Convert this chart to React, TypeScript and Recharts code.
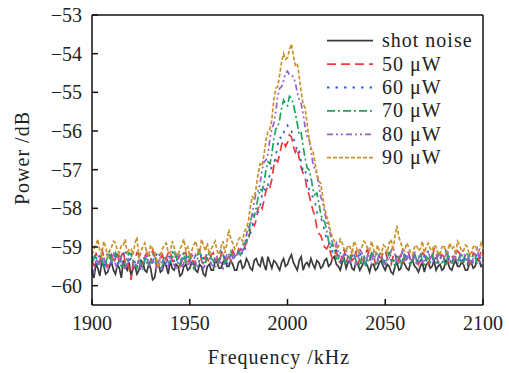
import { LineChart, Line, XAxis, YAxis, ReferenceLine, Label } from 'recharts'

const FONT = '"Liberation Serif", "Times New Roman", serif'

// frequency grid, kHz (1 kHz step)
const FREQ = Array.from({ length: 201 }, (_, i) => 1900 + i)
const X_TICKS = [1900, 1950, 2000, 2050, 2100]
const Y_TICKS = [-60, -59, -58, -57, -56, -55, -54, -53]

const SHOT = [
  -59.6, -59.8, -59.45, -59.55, -59.75, -59.4, -59.5, -59.7, -59.65, -59.5,
  -59.4, -59.6, -59.7, -59.45, -59.55, -59.8, -59.35, -59.5, -59.6, -59.4,
  -59.75, -59.55, -59.5, -59.7, -59.6, -59.35, -59.4, -59.6, -59.65, -59.45,
  -59.55, -59.85, -59.8, -59.5, -59.45, -59.65, -59.6, -59.4, -59.5, -59.7,
  -59.35, -59.55, -59.6, -59.45, -59.5, -59.75, -59.7, -59.5, -59.45, -59.6,
  -59.55, -59.4, -59.4, -59.6, -59.65, -59.45, -59.5, -59.7, -59.75, -59.5,
  -59.45, -59.6, -59.6, -59.35, -59.4, -59.55, -59.55, -59.4, -59.3, -59.5,
  -59.5, -59.35, -59.45, -59.6, -59.6, -59.4, -59.35, -59.55, -59.5, -59.3,
  -59.4, -59.55, -59.6, -59.35, -59.3, -59.45, -59.5, -59.25, -59.45, -59.6,
  -59.25, -59.4, -59.55, -59.35, -59.4, -59.5, -59.6, -59.4, -59.3, -59.5,
  -59.45, -59.3, -59.2, -59.4, -59.5, -59.6, -59.35, -59.25, -59.6, -59.45,
  -59.4, -59.5, -59.3, -59.45, -59.55, -59.35, -59.4, -59.55, -59.5, -59.35,
  -59.3, -59.5, -59.45, -59.3, -59.25, -59.45, -59.5, -59.6, -59.4, -59.3,
  -59.55, -59.4, -59.35, -59.55, -59.6, -59.4, -59.45, -59.6, -59.5, -59.4,
  -59.4, -59.5, -59.65, -59.45, -59.45, -59.6, -59.55, -59.4, -59.35, -59.5,
  -59.6, -59.45, -59.5, -59.65, -59.7, -59.5, -59.4, -59.6, -59.55, -59.35,
  -59.45, -59.55, -59.6, -59.4, -59.35, -59.5, -59.55, -59.65, -59.5, -59.4,
  -59.65, -59.45, -59.4, -59.55, -59.5, -59.35, -59.6, -59.5, -59.45, -59.6,
  -59.55, -59.35, -59.4, -59.55, -59.6, -59.45, -59.35, -59.5, -59.5, -59.4,
  -59.45, -59.6, -59.6, -59.45, -59.4, -59.55, -59.5, -59.3, -59.35, -59.5,
  -59.45,
]

const P50 = [
  -59.35, -59.5, -59.15, -59.3, -59.4, -59.05, -59.25, -59.45, -59.5, -59.3,
  -59.2, -59.4, -59.3, -59.1, -59.45, -59.25, -59.1, -59.4, -59.35, -59.55,
  -59.85, -59.4, -59.3, -59.15, -59.2, -59.5, -59.4, -59.25, -59.15, -59.45,
  -59.35, -59.1, -59.25, -59.5, -59.45, -59.3, -59.2, -59.4, -59.3, -59.15,
  -59.1, -59.35, -59.4, -59.2, -59.25, -59.5, -59.35, -59.15, -59.15, -59.4,
  -59.3, -59.2, -59.45, -59.35, -59.2, -59.05, -59.35, -59.45, -59.25, -59.3,
  -59.4, -59.2, -59.15, -59.35, -59.3, -59.45, -59.2, -59.1, -59.45, -59.3,
  -59.25, -59.35, -59.1, -59.2, -59.25, -59.05, -59.1, -59.15, -59.0, -58.9,
  -58.85, -58.55, -58.4, -58.45, -58.3, -58.0, -57.9, -58.0, -57.8, -57.55,
  -57.4, -57.45, -57.25, -56.9, -56.75, -56.8, -56.6, -56.35, -56.25, -56.4,
  -56.3, -56.1, -56.15, -56.4, -56.55, -56.45, -56.7, -56.95, -57.1, -57.2,
  -57.5, -57.65, -57.85, -58.05, -58.2, -58.5, -58.65, -58.7, -58.85, -59.0,
  -59.05, -58.95, -59.15, -59.3, -59.2, -59.1, -59.35, -59.4, -59.2, -59.05,
  -59.4, -59.25, -59.15, -59.35, -59.3, -59.1, -59.45, -59.3, -59.25, -59.4,
  -59.15, -59.05, -59.35, -59.2, -59.2, -59.45, -59.4, -59.25, -59.3, -59.1,
  -59.1, -59.3, -59.35, -59.45, -59.25, -59.15, -59.45, -59.3, -59.2, -59.4,
  -59.3, -59.1, -59.15, -59.4, -59.4, -59.2, -59.25, -59.45, -59.35, -59.15,
  -59.2, -59.35, -59.45, -59.25, -59.3, -59.05, -59.15, -59.4, -59.35, -59.2,
  -59.25, -59.45, -59.4, -59.2, -59.2, -59.35, -59.3, -59.1, -59.15, -59.4,
  -59.35, -59.2, -59.25, -59.45, -59.4, -59.15, -59.2, -59.35, -59.3, -59.1,
  -59.25,
]

const P60 = [
  -59.3, -59.15, -59.45, -59.3, -59.2, -59.4, -59.35, -59.55, -59.1, -59.25,
  -59.4, -59.2, -59.25, -59.35, -59.5, -59.3, -59.2, -59.05, -59.3, -59.45,
  -59.15, -59.3, -59.4, -59.5, -59.3, -59.15, -59.2, -59.35, -59.45, -59.2,
  -59.25, -59.4, -59.35, -59.2, -59.1, -59.3, -59.3, -59.5, -59.4, -59.25,
  -59.25, -59.1, -59.35, -59.45, -59.15, -59.3, -59.45, -59.2, -59.2, -59.35,
  -59.3, -59.5, -59.4, -59.2, -59.25, -59.4, -59.15, -59.3, -59.35, -59.1,
  -59.2, -59.45, -59.4, -59.25, -59.25, -59.35, -59.1, -59.2, -59.3, -59.45,
  -59.35, -59.2, -59.15, -59.3, -59.2, -59.1, -59.05, -59.2, -59.1, -58.9,
  -58.7, -58.65, -58.5, -58.2, -58.05, -58.1, -57.95, -57.65, -57.5, -57.55,
  -57.4, -57.1, -56.9, -56.85, -56.65, -56.35, -56.15, -56.2, -56.05, -55.9,
  -55.85, -56.0, -56.0, -56.2, -56.3, -56.55, -56.5, -56.8, -57.05, -57.0,
  -57.25, -57.5, -57.65, -57.7, -57.8, -58.1, -58.2, -58.25, -58.35, -58.6,
  -58.8, -58.85, -58.95, -59.15, -59.2, -59.05, -59.25, -59.4, -59.35, -59.2,
  -59.2, -59.3, -59.4, -59.25, -59.15, -59.35, -59.3, -59.1, -59.45, -59.3,
  -59.2, -59.4, -59.35, -59.15, -59.25, -59.3, -59.1, -59.25, -59.4, -59.5,
  -59.3, -59.15, -59.2, -59.35, -59.45, -59.2, -59.25, -59.4, -59.35, -59.1,
  -59.15, -59.35, -59.3, -59.2, -59.4, -59.25, -59.2, -59.45, -59.35, -59.2,
  -59.25, -59.4, -59.1, -59.3, -59.4, -59.2, -59.3, -59.45, -59.2, -59.35,
  -59.35, -59.1, -59.25, -59.4, -59.4, -59.3, -59.15, -59.25, -59.3, -59.45,
  -59.2, -59.35, -59.45, -59.2, -59.25, -59.4, -59.35, -59.15, -59.2, -59.35,
  -59.3,
]

const P70 = [
  -59.4, -59.3, -59.2, -59.45, -59.35, -59.2, -59.55, -59.4, -59.25, -59.1,
  -59.4, -59.3, -59.15, -59.25, -59.35, -59.5, -59.5, -59.35, -59.3, -59.15,
  -59.2, -59.35, -59.45, -59.55, -59.3, -59.4, -59.6, -59.35, -59.25, -59.45,
  -59.4, -59.2, -59.2, -59.4, -59.35, -59.55, -59.5, -59.3, -59.25, -59.4,
  -59.4, -59.3, -59.15, -59.25, -59.35, -59.5, -59.25, -59.15, -59.45, -59.3,
  -59.2, -59.35, -59.55, -59.45, -59.3, -59.1, -59.25, -59.4, -59.4, -59.25,
  -59.15, -59.3, -59.35, -59.5, -59.5, -59.3, -59.25, -59.2, -59.4, -59.35,
  -59.2, -59.1, -59.3, -59.25, -59.15, -59.1, -59.2, -58.95, -58.9, -58.85,
  -58.7, -58.35, -58.15, -58.2, -58.0, -57.7, -57.5, -57.55, -57.35, -57.0,
  -56.8, -56.85, -56.6, -56.2, -55.95, -55.9, -55.7, -55.4, -55.2, -55.3,
  -55.35, -55.1, -55.15, -55.3, -55.55, -55.8, -56.1, -56.05, -56.4, -56.7,
  -56.95, -57.0, -57.2, -57.5, -57.65, -57.6, -57.85, -58.15, -58.3, -58.35,
  -58.55, -58.85, -59.05, -58.9, -59.1, -59.3, -59.3, -59.15, -59.2, -59.35,
  -59.45, -59.25, -59.3, -59.1, -59.15, -59.35, -59.4, -59.5, -59.25, -59.2,
  -59.5, -59.35, -59.3, -59.15, -59.2, -59.45, -59.4, -59.2, -59.25, -59.35,
  -59.45, -59.3, -59.15, -59.25, -59.35, -59.5, -59.3, -59.2, -59.5, -59.35,
  -59.2, -59.3, -59.4, -59.45, -59.25, -59.15, -59.35, -59.3, -59.15, -59.4,
  -59.45, -59.25, -59.3, -59.4, -59.2, -59.35, -59.4, -59.15, -59.25, -59.4,
  -59.35, -59.5, -59.2, -59.3, -59.45, -59.25, -59.3, -59.4, -59.25, -59.15,
  -59.4, -59.3, -59.15, -59.35, -59.35, -59.2, -59.25, -59.45, -59.4, -59.3,
  -59.3,
]

const P80 = [
  -59.55, -59.65, -59.3, -59.4, -59.5, -59.35, -59.25, -59.5, -59.6, -59.45,
  -59.35, -59.2, -59.45, -59.55, -59.2, -59.35, -59.5, -59.6, -59.4, -59.25,
  -59.3, -59.45, -59.55, -59.4, -59.35, -59.6, -59.45, -59.3, -59.2, -59.4,
  -59.5, -59.35, -59.3, -59.55, -59.4, -59.25, -59.6, -59.45, -59.35, -59.5,
  -59.25, -59.4, -59.45, -59.6, -59.35, -59.2, -59.55, -59.4, -59.3, -59.5,
  -59.4, -59.25, -59.2, -59.45, -59.5, -59.35, -59.35, -59.55, -59.45, -59.3,
  -59.3, -59.45, -59.5, -59.3, -59.25, -59.4, -59.4, -59.55, -59.35, -59.2,
  -59.2, -59.4, -59.3, -59.15, -59.2, -59.25, -59.05, -59.1, -58.95, -58.7,
  -58.45, -58.4, -58.15, -57.8, -57.6, -57.55, -57.35, -57.0, -56.8, -56.75,
  -56.6, -56.2, -55.95, -55.8, -55.5, -55.1, -54.9, -54.85, -54.7, -54.5,
  -54.45, -54.55, -54.55, -54.6, -54.75, -55.0, -55.2, -55.3, -55.55, -55.9,
  -56.15, -56.2, -56.5, -56.85, -57.0, -57.1, -57.4, -57.7, -57.85, -58.1,
  -58.35, -58.45, -58.7, -58.95, -59.0, -58.9, -59.15, -59.3, -59.3, -59.15,
  -59.1, -59.3, -59.4, -59.25, -59.2, -59.45, -59.35, -59.05, -59.15, -59.3,
  -59.4, -59.2, -59.25, -59.45, -59.1, -59.3, -59.35, -59.15, -59.2, -59.4,
  -59.45, -59.25, -59.3, -59.1, -59.0, -59.2, -59.35, -59.45, -59.2, -59.05,
  -59.4, -59.3, -59.15, -59.35, -59.3, -59.1, -59.45, -59.3, -59.2, -59.4,
  -59.35, -59.15, -59.1, -59.3, -59.3, -59.45, -59.4, -59.2, -59.2, -59.35,
  -59.35, -59.2, -59.15, -59.4, -59.4, -59.25, -59.25, -59.45, -59.3, -59.1,
  -59.1, -59.3, -59.35, -59.2, -59.45, -59.3, -59.2, -59.05, -59.3, -59.45,
  -59.4,
]

const P90 = [
  -59.2, -59.05, -58.95, -58.8, -59.1, -59.2, -58.85, -59.0, -59.25, -59.1,
  -59.0, -58.85, -58.9, -59.1, -59.15, -58.95, -58.95, -58.8, -59.2, -59.05,
  -59.05, -59.2, -58.9, -58.75, -59.3, -59.1, -59.0, -58.9, -59.15, -59.25,
  -58.95, -59.05, -59.1, -59.3, -59.55, -59.2, -59.05, -58.95, -58.9, -59.15,
  -59.15, -58.85, -59.0, -59.2, -59.2, -59.05, -58.95, -58.8, -59.1, -59.0,
  -59.25, -59.1, -58.95, -58.85, -59.05, -59.2, -58.8, -58.95, -59.1, -58.9,
  -59.2, -59.05, -58.95, -58.85, -59.1, -59.2, -59.0, -58.85, -59.15, -58.9,
  -58.55, -58.8, -58.9, -59.05, -58.95, -58.8, -58.75, -58.85, -58.6, -58.5,
  -58.35, -57.95, -57.7, -57.75, -57.45, -57.1, -56.85, -56.9, -56.6, -56.25,
  -56.0, -55.95, -55.7, -55.2, -54.9, -54.85, -54.55, -54.2, -54.0, -54.15,
  -54.1, -53.9, -53.75, -54.05, -54.3, -54.25, -54.6, -55.0, -55.3, -55.4,
  -55.8, -56.2, -56.45, -56.5, -56.8, -57.1, -57.3, -57.35, -57.7, -58.0,
  -58.2, -58.35, -58.6, -58.75, -58.85, -59.05, -59.0, -58.8, -58.9, -59.05,
  -59.1, -58.95, -59.0, -59.2, -58.85, -58.95, -59.15, -59.05, -59.0, -58.85,
  -58.9, -59.05, -59.1, -58.85, -59.05, -59.2, -58.95, -59.1, -59.2, -58.95,
  -59.0, -59.15, -58.9, -58.8, -59.1, -58.7, -58.45, -58.75, -58.9, -59.05,
  -59.1, -58.9, -59.0, -59.15, -59.2, -59.0, -58.95, -59.1, -59.05, -58.85,
  -59.15, -59.0, -58.9, -59.05, -59.1, -58.95, -59.0, -59.2, -59.2, -59.0,
  -58.95, -59.15, -59.1, -58.9, -59.05, -59.0, -59.2, -58.85, -58.95, -59.1,
  -59.1, -58.95, -59.0, -59.2, -59.15, -59.0, -58.95, -59.1, -59.1, -58.9,
  -59.05,
]

const SERIES = [
  { key: 'shot', name: 'shot noise', values: SHOT, color: '#3a3a3a', dash: undefined as string | undefined },
  { key: 'p50', name: '50 \u03bcW', values: P50, color: '#ee3a3c', dash: '9 5' },
  { key: 'p60', name: '60 \u03bcW', values: P60, color: '#2468d4', dash: '2.5 6' },
  { key: 'p70', name: '70 \u03bcW', values: P70, color: '#1fa35c', dash: '8 3 2 3' },
  { key: 'p80', name: '80 \u03bcW', values: P80, color: '#9860cf', dash: '6 3 2 3 2 3' },
  { key: 'p90', name: '90 \u03bcW', values: P90, color: '#c9922c', dash: '4 2' },
]

const data = FREQ.map((f, i) => {
  const row: Record<string, number> = { f }
  SERIES.forEach(s => { row[s.key] = s.values[i] })
  return row
})

const fmtY = (v: number) => (v < 0 ? `\u2212${-v}` : `${v}`)

const tickStyle = { fill: '#222', fontSize: 20, fontFamily: FONT }
const axisLine = { stroke: '#111', strokeWidth: 1.5 }

export default function App() {
  return (
    <div style={{ position: 'absolute', left: 0, top: 0, width: 509, height: 373, background: '#fff' }}>
      <LineChart width={509} height={373} data={data} margin={{ top: 15, right: 26, bottom: 0, left: 0 }}>
        <XAxis
          dataKey="f"
          type="number"
          domain={[1900, 2100]}
          ticks={X_TICKS}
          height={68}
          tickSize={-6}
          tickMargin={17}
          tick={tickStyle}
          axisLine={axisLine}
          tickLine={{ stroke: '#111', strokeWidth: 1.5 }}
        >
          <Label
            content={() => (
              <text x={279} y={364} textAnchor="middle" fontFamily={FONT} fontSize={20} letterSpacing={1} fill="#222">
                Frequency /kHz
              </text>
            )}
          />
        </XAxis>
        <YAxis
          type="number"
          domain={[-60.5, -53]}
          ticks={Y_TICKS}
          width={92}
          tickSize={-6}
          tickMargin={16}
          tickFormatter={fmtY}
          tick={tickStyle}
          axisLine={axisLine}
          tickLine={{ stroke: '#111', strokeWidth: 1.5 }}
          allowDataOverflow
        >
          <Label
            content={() => (
              <text x={29} y={158} transform="rotate(-90 29 158)" textAnchor="middle" fontFamily={FONT} fontSize={20} letterSpacing={1} fill="#222">
                Power /dB
              </text>
            )}
          />
        </YAxis>
        <ReferenceLine y={-53} stroke="#111" strokeWidth={1.5} />
        <ReferenceLine x={2100} stroke="#111" strokeWidth={1.5} />
        {SERIES.map(s => (
          <Line
            key={s.key}
            dataKey={s.key}
            type="linear"
            stroke={s.color}
            strokeWidth={1.7}
            strokeDasharray={s.dash}
            dot={false}
            isAnimationActive={false}
          />
        ))}
      </LineChart>
      <svg width={509} height={373} style={{ position: 'absolute', left: 0, top: 0, pointerEvents: 'none' }}>
        {SERIES.map((s, i) => {
          const y = 40.7 + i * 23.4
          return (
            <g key={s.key}>
              <line x1={327} x2={373} y1={y} y2={y} stroke={s.color} strokeWidth={1.8} strokeDasharray={s.dash} />
              <text x={382} y={y + 6.5} fontFamily={FONT} fontSize={20} letterSpacing={1} fill="#222">
                {s.name}
              </text>
            </g>
          )
        })}
      </svg>
    </div>
  )
}
